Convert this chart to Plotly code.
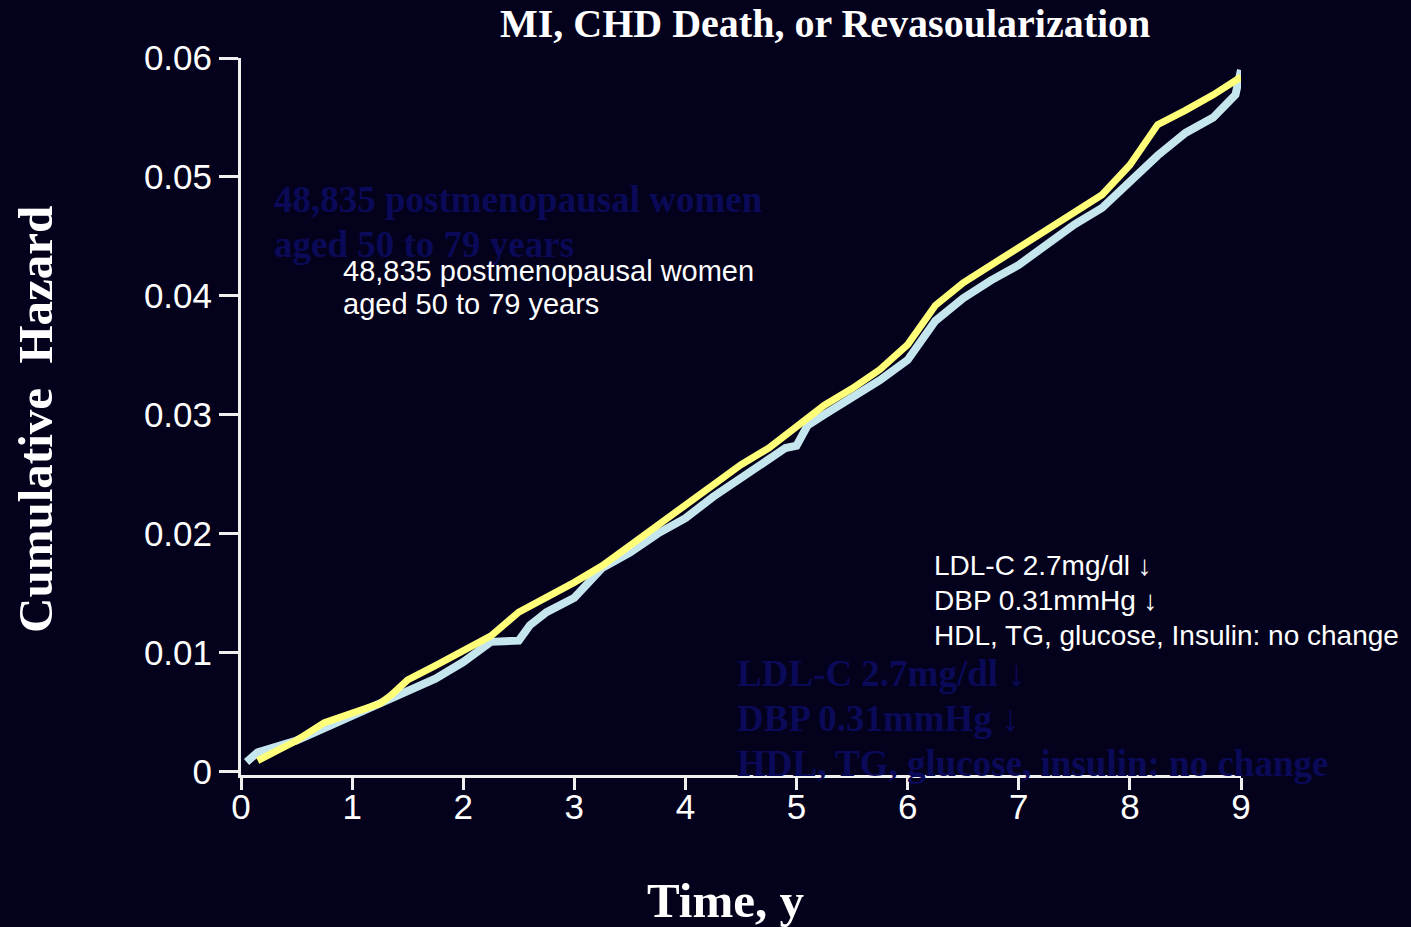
import plotly.graph_objects as go

# ---- data ----
time_yellow = [0.15, 0.5, 0.75, 1.0, 1.25, 1.35, 1.5, 1.75, 2.0, 2.25, 2.5, 2.75, 3.0, 3.25, 3.5,
               3.75, 4.0, 4.25, 4.5, 4.75, 5.0, 5.25, 5.5, 5.75, 6.0, 6.25, 6.5, 6.75, 7.0,
               7.25, 7.5, 7.75, 8.0, 8.25, 8.5, 8.75, 9.0]
hazard_yellow = [0.0009, 0.0026, 0.0041, 0.0049, 0.0057, 0.0064, 0.0077, 0.0089, 0.0102, 0.0114,
                 0.0134, 0.0146, 0.0159, 0.0173, 0.0190, 0.0207, 0.0224, 0.0242, 0.0258, 0.0272,
                 0.0290, 0.0308, 0.0322, 0.0338, 0.0359, 0.0392, 0.0411, 0.0426, 0.0440, 0.0455,
                 0.0470, 0.0485, 0.0510, 0.0544, 0.0556, 0.0569, 0.0584]

time_blue = [0.05, 0.15, 0.5, 1.0, 1.35, 1.5, 1.75, 2.0, 2.25, 2.5, 2.6, 2.75, 3.0, 3.25, 3.5,
             3.75, 4.0, 4.25, 4.5, 4.75, 4.9, 5.0, 5.1, 5.25, 5.5, 5.75, 6.0, 6.25, 6.5, 6.75,
             7.0, 7.25, 7.5, 7.75, 8.0, 8.25, 8.5, 8.75, 8.95, 9.0]
hazard_blue = [0.0008, 0.0016, 0.0026, 0.0047, 0.0060, 0.0068, 0.0078, 0.0092, 0.0109, 0.0110,
               0.0123, 0.0134, 0.0146, 0.0171, 0.0184, 0.0200, 0.0213, 0.0231, 0.0247, 0.0262,
               0.0272, 0.0274, 0.0291, 0.0300, 0.0314, 0.0329, 0.0346, 0.0379, 0.0398, 0.0413,
               0.0426, 0.0443, 0.0460, 0.0474, 0.0497, 0.0518, 0.0537, 0.0550, 0.0569, 0.0590]

x_tickvals = [0, 1, 2, 3, 4, 5, 6, 7, 8, 9]
x_ticktext = ["0", "1", "2", "3", "4", "5", "6", "7", "8", "9"]
y_tickvals = [0, 0.01, 0.02, 0.03, 0.04, 0.05, 0.06]
y_ticktext = ["0", "0.01", "0.02", "0.03", "0.04", "0.05", "0.06"]

title_text = "MI, CHD Death, or Revasoularization"
y_title = "Cumulative \u00a0Hazard"
x_title = "Time, y"
ghost_upper = ["48,835 postmenopausal women", "aged 50 to 79 years"]
white_upper = ["48,835 postmenopausal women", "aged 50 to 79 years"]
white_lower = ["LDL-C 2.7mg/dl \u2193", "DBP 0.31mmHg \u2193", "HDL, TG, glucose, Insulin: no change"]
ghost_lower = ["LDL-C 2.7mg/dl \u2193", "DBP 0.31mmHg \u2193", "HDL, TG, glucose, insulin: no change"]

# ---- layout helpers (pixel -> paper) ----
W, H = 1411, 927
L, R, T, B = 241, 170, 58, 152
PW, PH = W - L - R, H - T - B


def px(xp):
    return (xp - L) / PW


def py(yp):
    return (H - B - yp) / PH


BG = "#03011c"
GHOST = "#0b0a58"
WHITE = "#ffffff"
SERIF = "Liberation Serif, Times New Roman, serif"
SANS = "Liberation Sans, Arial, sans-serif"

fig = go.Figure()
fig.add_trace(go.Scatter(x=time_blue, y=hazard_blue, mode="lines",
                         line=dict(color="#c6e6ee", width=8), showlegend=False))
fig.add_trace(go.Scatter(x=time_yellow, y=hazard_yellow, mode="lines",
                         line=dict(color="#ffff7a", width=7), showlegend=False))

ann = []
for i, t in enumerate(ghost_upper):
    ann.append(dict(text="<b>" + t + "</b>", x=px(272), y=py(200 + 45 * i), xref="paper", yref="paper",
                    xanchor="left", yanchor="middle", showarrow=False,
                    font=dict(family=SERIF, size=37, color=GHOST)))
for i, t in enumerate(ghost_lower):
    ann.append(dict(text="<b>" + t + "</b>", x=px(735), y=py(673 + 45 * i), xref="paper", yref="paper",
                    xanchor="left", yanchor="middle", showarrow=False,
                    font=dict(family=SERIF, size=37, color=GHOST)))
for i, t in enumerate(white_upper):
    ann.append(dict(text=t, x=px(341), y=py(271 + 33 * i), xref="paper", yref="paper",
                    xanchor="left", yanchor="middle", showarrow=False,
                    font=dict(family=SANS, size=29, color=WHITE)))
for i, t in enumerate(white_lower):
    ann.append(dict(text=t, x=px(932), y=py(565 + 35 * i), xref="paper", yref="paper",
                    xanchor="left", yanchor="middle", showarrow=False,
                    font=dict(family=SANS, size=28, color=WHITE)))
# title, axis titles
ann.append(dict(text="<b>" + title_text + "</b>", x=px(825), y=py(24), xref="paper", yref="paper",
                xanchor="center", yanchor="middle", showarrow=False,
                font=dict(family=SERIF, size=40, color=WHITE)))
ann.append(dict(text="<b>" + y_title + "</b>", x=px(35), y=py(420), xref="paper", yref="paper",
                xanchor="center", yanchor="middle", showarrow=False, textangle=-90,
                font=dict(family=SERIF, size=49, color=WHITE)))
ann.append(dict(text="<b>" + x_title + "</b>", x=px(725), y=py(900), xref="paper", yref="paper",
                xanchor="center", yanchor="middle", showarrow=False,
                font=dict(family=SERIF, size=49, color=WHITE)))

fig.update_layout(
    width=W, height=H,
    margin=dict(l=L, r=R, t=T, b=B, pad=0),
    paper_bgcolor=BG, plot_bgcolor=BG,
    annotations=ann,
    showlegend=False,
)
fig.update_xaxes(range=[0, 9], tickvals=x_tickvals, ticktext=x_ticktext,
                 showgrid=False, zeroline=False, showline=True, linecolor="#f0f0f0", linewidth=3,
                 ticks="outside", ticklen=12, tickwidth=2.5, tickcolor="#f0f0f0",
                 ticklabelstandoff=-13,
                 tickfont=dict(family=SANS, size=35, color=WHITE))
fig.update_yaxes(range=[-0.0003, 0.06], tickvals=y_tickvals, ticktext=y_ticktext,
                 showgrid=False, zeroline=False, showline=True, linecolor="#f0f0f0", linewidth=3,
                 ticks="outside", ticklen=19, tickwidth=2.5, tickcolor="#f0f0f0",
                 tickfont=dict(family=SANS, size=35, color=WHITE))

fig.write_html("out.html",
               config={"displayModeBar": False},
               post_script="document.body.style.margin='0';"
                           "document.body.style.background='#03011c';"
                           "document.body.style.overflow='hidden';")
